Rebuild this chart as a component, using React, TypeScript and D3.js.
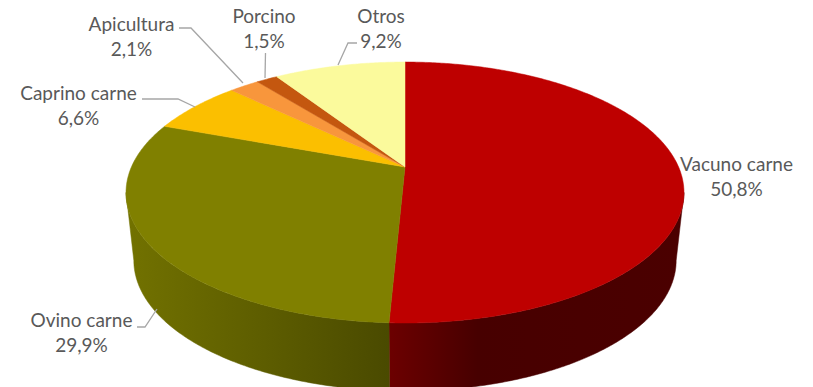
import React from "react";
import * as d3 from "d3";

const categories = ["Vacuno carne", "Ovino carne", "Caprino carne", "Apicultura", "Porcino", "Otros"];
const values = [50.8, 29.9, 6.6, 2.1, 1.5, 9.2];
const topColors = ["#BE0000", "#808000", "#FBBF00", "#F8963C", "#C4570F", "#FBFA9C"];
const sideStops: [number, string][][] = [
  [[0, "#6c0000"], [0.3, "#470000"], [1, "#4b0000"]],
  [[0, "#727200"], [1, "#4a4a00"]],
  [[0, "#b08500"], [1, "#8a6a00"]],
  [[0, "#b06a2a"], [1, "#8a5220"]],
  [[0, "#8a3e0a"], [1, "#6a3008"]],
  [[0, "#b0b06a"], [1, "#8a8a55"]],
];

// layout (label text positions and leader lines)
const labelLayout = [
  { x: 736.5, y: 171, leader: [] as [number, number][] },
  { x: 81.5, y: 327, leader: [[137, 327], [145, 327], [157, 309]] as [number, number][] },
  { x: 78.5, y: 100, leader: [[142, 99], [178, 99], [195, 107]] as [number, number][] },
  { x: 131.5, y: 30.5, leader: [[179, 28], [191, 28], [243, 83]] as [number, number][] },
  { x: 264, y: 22.5, leader: [[265.5, 53], [265, 78]] as [number, number][] },
  { x: 381, y: 22.5, leader: [[357, 43], [348, 43], [338, 65]] as [number, number][] },
];

const W = 813, H = 387;
const cx = 405, cy0 = 167; // apex (centre of pie top)
const a = 273.6, b = 125.5, k = 0.1955; // perspective ellipse params
const depth = 68;
const botScale = 0.972;

function proj(t: number, dy = 0, sx = 1): [number, number] {
  const den = 1 + k * Math.cos(t);
  return [cx + (sx * a * Math.sin(t)) / den, cy0 - (b * Math.cos(t)) / den + dy];
}

function arcPts(t0: number, t1: number, dy = 0, sx = 1): [number, number][] {
  const n = Math.max(2, Math.ceil(Math.abs(t1 - t0) / 0.01));
  return d3.range(n + 1).map((i) => proj(t0 + ((t1 - t0) * i) / n, dy, sx));
}

const fmt = (v: number) => v.toFixed(1).replace(".", ",") + "%";

export default function App() {
  const pie = d3.pie<number>().sort(null).value((d) => d).startAngle(0).endAngle(2 * Math.PI);
  const arcs = pie(values);
  const line = d3.line();
  const sMin = Math.acos(-k);
  const sMax = 2 * Math.PI - sMin;

  const sides = arcs
    .map((ar, i) => {
      const s = Math.max(ar.startAngle, sMin);
      const e = Math.min(ar.endAngle, sMax);
      if (s >= e) return null;
      const top = arcPts(s, e);
      const bot = arcPts(e, s, depth, botScale);
      const pts = [...top, ...bot];
      const xs = pts.map((p) => p[0]);
      return { i, d: line(pts)! + "Z", x0: d3.min(xs)!, x1: d3.max(xs)! };
    })
    .filter(Boolean) as { i: number; d: string; x0: number; x1: number }[];

  const tops = arcs.map((ar, i) => {
    const pts: [number, number][] = [[cx, cy0], ...arcPts(ar.startAngle, ar.endAngle)];
    return { i, d: line(pts)! + "Z" };
  });

  return (
    <svg width={W} height={H} style={{ position: "absolute", left: 0, top: 0, background: "#fff" }}>
      <defs>
        {sides.map((s) => (
          <linearGradient key={s.i} id={`side${s.i}`} gradientUnits="userSpaceOnUse" x1={s.x0} x2={s.x1} y1={0} y2={0}>
            {sideStops[s.i].map(([o, c], j) => (
              <stop key={j} offset={o} stopColor={c} />
            ))}
          </linearGradient>
        ))}
      </defs>
      {sides.map((s) => (
        <path key={"s" + s.i} d={s.d} fill={`url(#side${s.i})`} stroke={`url(#side${s.i})`} strokeWidth={0.5} />
      ))}
      {tops.map((t) => (
        <path key={"t" + t.i} d={t.d} fill={topColors[t.i]} stroke={topColors[t.i]} strokeWidth={0.5} />
      ))}
      {labelLayout.map((l, i) =>
        l.leader.length ? (
          <path key={"l" + i} d={line(l.leader)!} fill="none" stroke="#A6A6A6" strokeWidth={1.3} />
        ) : null
      )}
      {categories.map((c, i) => (
        <text
          key={"x" + i}
          x={labelLayout[i].x}
          y={labelLayout[i].y}
          textAnchor="middle"
          fontFamily="Lato, 'Open Sans', sans-serif"
          fontSize={19}
          fill="#595959"
        >
          <tspan x={labelLayout[i].x}>{c}</tspan>
          <tspan x={labelLayout[i].x} dy={25}>{fmt(values[i])}</tspan>
        </text>
      ))}
    </svg>
  );
}
